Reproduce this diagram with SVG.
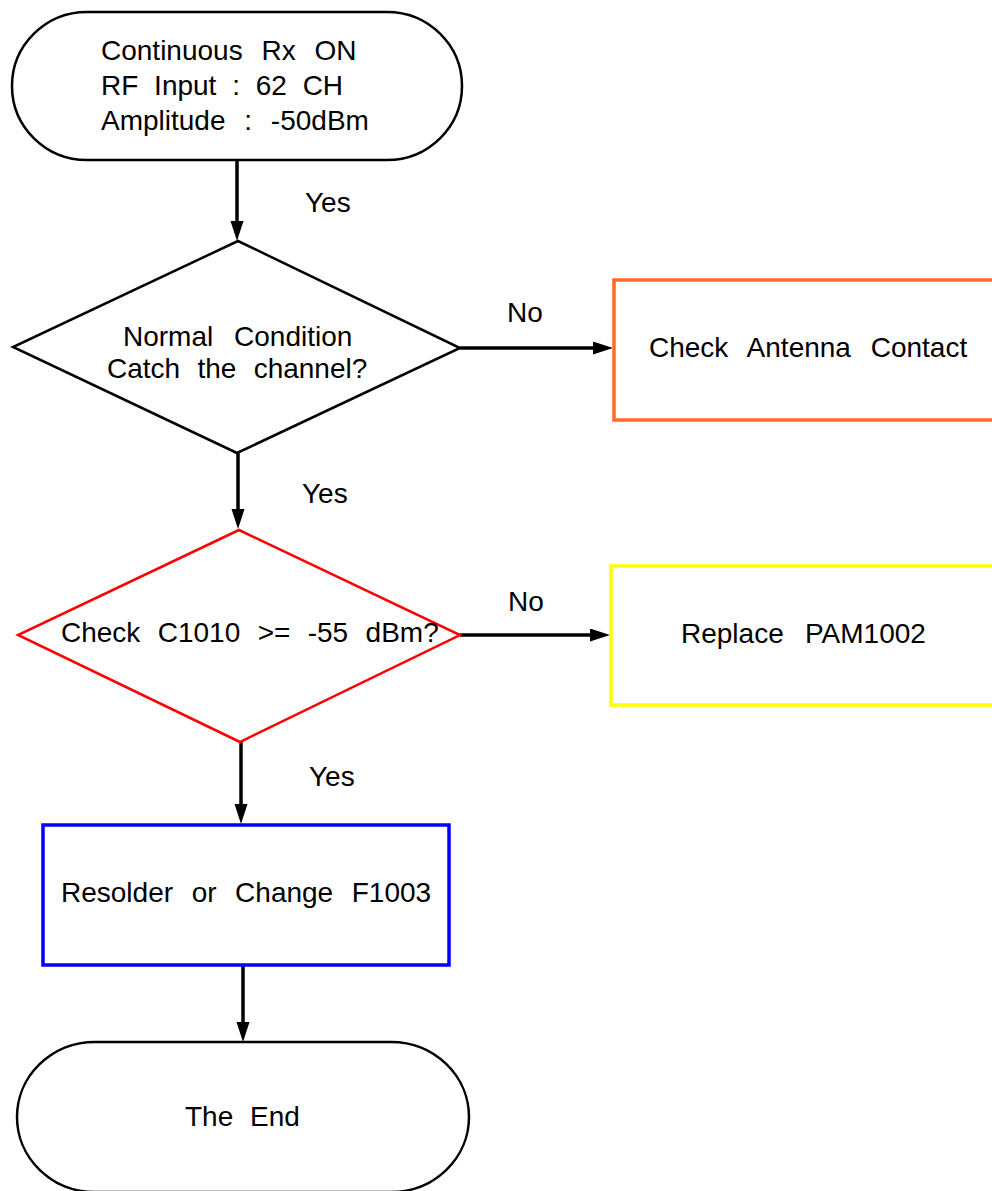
<svg xmlns="http://www.w3.org/2000/svg" width="992" height="1191" viewBox="0 0 992 1191">
<style>
text{font-family:"Liberation Sans",Arial,sans-serif;font-size:28px;fill:#000}
.term{fill:#fff;stroke:#000;stroke-width:2.5}
.dia{fill:#fff;stroke-width:2.5}
.box{fill:#fff;stroke-width:3.5}
.conn line{stroke:#000;stroke-width:3.5;fill:none}
</style>
<defs>
<marker id="arr" markerUnits="userSpaceOnUse" markerWidth="20" markerHeight="14" refX="10" refY="6.5" orient="auto">
<path d="M0,0 L20,6.5 L0,13 z" fill="#000"/>
</marker>
</defs>
<rect width="992" height="1191" fill="#fff"/>
<g class="conn" id="connectors">
<line x1="237" y1="160" x2="237" y2="231" marker-end="url(#arr)"/>
<line x1="460" y1="348" x2="603" y2="348" marker-end="url(#arr)"/>
<line x1="238" y1="453" x2="238" y2="519" marker-end="url(#arr)"/>
<line x1="460" y1="635" x2="600" y2="635" marker-end="url(#arr)"/>
<line x1="241" y1="742" x2="241" y2="814" marker-end="url(#arr)"/>
<line x1="243" y1="965" x2="243" y2="1032" marker-end="url(#arr)"/>
<text x="305" y="212">Yes</text>
<text x="507" y="322">No</text>
<text x="302" y="503">Yes</text>
<text x="508" y="611">No</text>
<text x="309" y="786">Yes</text>
</g>
<g id="start">
<rect class="term" x="12" y="12" width="450" height="148" rx="75" ry="74"/>
<text x="101" y="60" word-spacing="11">Continuous Rx ON</text>
<text x="101" y="95" word-spacing="8">RF Input : 62 CH</text>
<text x="101" y="130" word-spacing="11">Amplitude : -50dBm</text>
</g>
<g id="cond1">
<polygon class="dia" stroke="#000" points="238,241 460,348 237,453 13,347"/>
<text x="123" y="346" word-spacing="13">Normal Condition</text>
<text x="107" y="378" word-spacing="9.5">Catch the channel?</text>
</g>
<g id="antenna">
<rect class="box" stroke="#FF6A2A" x="614" y="280" width="400" height="140"/>
<text x="649" y="357" word-spacing="12">Check Antenna Contact</text>
</g>
<g id="cond2">
<polygon class="dia" stroke="#FF0000" points="239,530 460,635 240,742 18,635"/>
<text x="61" y="642" word-spacing="9.6">Check C1010 &gt;= -55 dBm?</text>
</g>
<g id="pam">
<rect class="box" stroke="#FFFF00" x="611" y="566" width="400" height="139"/>
<text x="681" y="643" word-spacing="13.5">Replace PAM1002</text>
</g>
<g id="resolder">
<rect class="box" stroke="#0000FF" x="43" y="825" width="406" height="140"/>
<text x="61" y="902" word-spacing="10.8">Resolder or Change F1003</text>
</g>
<g id="end">
<rect class="term" x="17" y="1042" width="452" height="150" rx="78" ry="75"/>
<text x="185" y="1126" word-spacing="9">The End</text>
</g>
</svg>
